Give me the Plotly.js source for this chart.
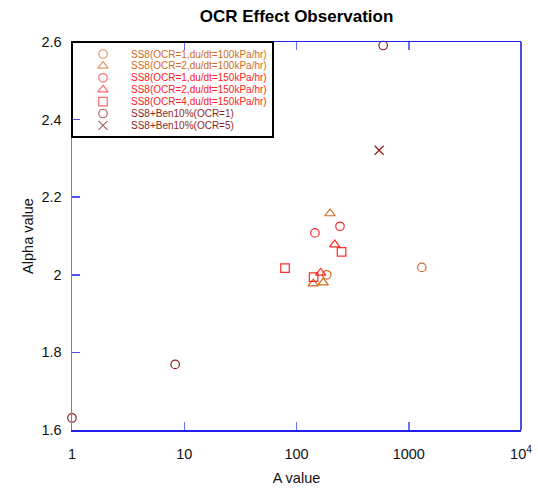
<!DOCTYPE html>
<html>
<head>
<meta charset="utf-8">
<script src="https://cdn.plot.ly/plotly-3.0.1.min.js"></script>
<style>html,body{margin:0;padding:0;background:#fff;}#chart{width:538px;height:488px;}</style>
</head>
<body>
<div id="chart"></div>
<script>
// ---- data ----
var seriesNames = [
  'SS8(OCR=1,du/dt=100kPa/hr)',
  'SS8(OCR=2,du/dt=100kPa/hr)',
  'SS8(OCR=1,du/dt=150kPa/hr)',
  'SS8(OCR=2,du/dt=150kPa/hr)',
  'SS8(OCR=4,du/dt=150kPa/hr)',
  'SS8+Ben10%(OCR=1)',
  'SS8+Ben10%(OCR=5)'
];
var ocr1_100_A = [1308, 186];
var ocr1_100_alpha = [2.019, 2.000];
var ocr2_100_A = [199, 141, 173];
var ocr2_100_alpha = [2.158, 1.977, 1.980];
var ocr1_150_A = [146, 244];
var ocr1_150_alpha = [2.108, 2.125];
var ocr2_150_A = [219, 164];
var ocr2_150_alpha = [2.078, 2.005];
var ocr4_150_A = [79, 252, 142];
var ocr4_150_alpha = [2.017, 2.059, 1.994];
var ben_ocr1_A = [1.0, 8.3, 592];
var ben_ocr1_alpha = [1.631, 1.769, 2.591];
var ben_ocr5_A = [545];
var ben_ocr5_alpha = [2.321];

var xTickVals = [1, 10, 100, 1000, 10000];
var xTickText = ['1', '10', '100', '1000', '10<sup>4</sup>'];
var yTickVals = [1.6, 1.8, 2.0, 2.2, 2.4, 2.6];
var yTickText = ['1.6', '1.8', '2', '2.2', '2.4', '2.6'];

// ---- styles ----
var cOrange = '#d06a22';
var cRed = 'rgba(255,20,20,0.9)';
var cDark = '#8e1f1f';
var styles = [
  {sym: 'circle-open', col: cOrange, size: 8.5},
  {sym: 'triangle-up-open', col: cOrange, size: 9},
  {sym: 'circle-open', col: cRed, size: 8.5},
  {sym: 'triangle-up-open', col: cRed, size: 9},
  {sym: 'square-open', col: cRed, size: 8.5},
  {sym: 'circle-open', col: cDark, size: 8.5},
  {sym: 'x-thin-open', col: cDark, size: 9}
];
var textCols = [cOrange, cOrange, '#ff2020', '#ff2020', '#ff2020', cDark, cDark];
var xs = [ocr1_100_A, ocr2_100_A, ocr1_150_A, ocr2_150_A, ocr4_150_A, ben_ocr1_A, ben_ocr5_A];
var ys = [ocr1_100_alpha, ocr2_100_alpha, ocr1_150_alpha, ocr2_150_alpha, ocr4_150_alpha, ben_ocr1_alpha, ben_ocr5_alpha];

var traces = [];
for (var i = 0; i < seriesNames.length; i++) {
  traces.push({
    type: 'scatter', mode: 'markers', name: seriesNames[i],
    x: xs[i], y: ys[i], cliponaxis: false,
    marker: {symbol: styles[i].sym, size: styles[i].size, color: styles[i].col,
             line: {color: styles[i].col, width: 1.2}},
    showlegend: false
  });
}

// ---- manual legend (keys on a hidden overlay axis) ----
var plotL = 72, plotT = 42, plotW = 449, plotH = 388;
var rowY0 = 54, rowStep = 11.9;
var keyX = (103 - plotL) / plotW;
var textX = (129 - plotL) / plotW;
var legKeyX = [], legKeyY = [], legSym = [], legCol = [], legSize = [];
var annotations = [];
for (var j = 0; j < seriesNames.length; j++) {
  var fy = 1 - (rowY0 + rowStep * j - plotT) / plotH;
  legKeyX.push(keyX); legKeyY.push(fy);
  legSym.push(styles[j].sym); legCol.push(styles[j].col); legSize.push(styles[j].size);
  annotations.push({
    xref: 'paper', yref: 'paper', x: textX, y: fy, xanchor: 'left', yanchor: 'middle',
    text: seriesNames[j], showarrow: false,
    font: {family: 'Liberation Sans, Arial, sans-serif', size: 10, color: textCols[j]}
  });
}
traces.push({
  type: 'scatter', mode: 'markers', xaxis: 'x2', yaxis: 'y2', showlegend: false,
  hoverinfo: 'skip', x: legKeyX, y: legKeyY, cliponaxis: false,
  marker: {symbol: legSym, size: legSize, color: legCol, line: {color: legCol, width: 1.2}}
});

var fontFam = 'Liberation Sans, Arial, sans-serif';
var layout = {
  width: 538, height: 488,
  margin: {l: plotL, r: 538 - plotL - plotW, t: plotT, b: 488 - plotT - plotH, pad: 0},
  paper_bgcolor: '#fff', plot_bgcolor: '#fff',
  showlegend: false,
  font: {family: fontFam, size: 14.5, color: '#111'},
  title: {text: '<b>OCR Effect Observation</b>', x: 0.5, xref: 'paper', y: 0.967, yanchor: 'middle',
          font: {family: fontFam, size: 17, color: '#000'}},
  xaxis: {
    type: 'log', range: [0, 4], tickvals: xTickVals, ticktext: xTickText,
    showgrid: false, zeroline: false, showline: true, linecolor: '#2020f0', linewidth: 1.5,
    mirror: 'ticks', ticks: 'inside', ticklen: 8, tickwidth: 1.5, tickcolor: '#6c6cff',
    ticklabelstandoff: 10,
    tickfont: {family: fontFam, size: 14.5, color: '#111'},
    title: {text: 'A value', standoff: 12, font: {family: fontFam, size: 14.5, color: '#111'}}
  },
  yaxis: {
    range: [1.6, 2.6], tickvals: yTickVals, ticktext: yTickText,
    showgrid: false, zeroline: false, showline: true, linecolor: '#7272ff', linewidth: 1.5,
    mirror: false, ticks: 'inside', ticklen: 8, tickwidth: 1.5, tickcolor: '#5050ff',
    ticklabelstandoff: 6,
    tickfont: {family: fontFam, size: 14.5, color: '#111'},
    title: {text: 'Alpha value', standoff: 4, font: {family: fontFam, size: 14.5, color: '#111'}}
  },
  xaxis2: {overlaying: 'x', range: [0, 1], visible: false, fixedrange: true},
  yaxis2: {overlaying: 'y', range: [0, 1], visible: false, fixedrange: true},
  shapes: [
    {type: 'line', xref: 'paper', yref: 'paper', x0: 1, x1: 1, y0: 0, y1: 1,
     line: {color: '#1010d8', width: 1.5}, layer: 'above'},
    {type: 'rect', xref: 'paper', yref: 'paper', x0: 0, x1: (273 - plotL) / plotW,
     y0: 1 - (137 - plotT) / plotH, y1: 1,
     line: {color: '#000', width: 2}, fillcolor: 'rgba(0,0,0,0)', layer: 'above'}
  ],
  annotations: annotations
};

Plotly.newPlot('chart', traces, layout, {displayModeBar: false, staticPlot: true});
</script>
</body>
</html>
